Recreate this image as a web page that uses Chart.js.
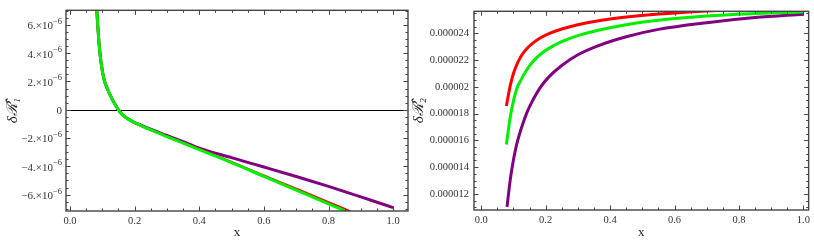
<!DOCTYPE html>
<html>
<head>
<meta charset="utf-8">
<script src="https://cdn.jsdelivr.net/npm/chart.js@4.4.0/dist/chart.umd.min.js"></script>
<style>
  body { margin: 0; background: #fff; }
  canvas { position: absolute; top: 0; }
  #left { left: 0; }
  #right { left: 410px; }
</style>
</head>
<body>
<canvas id="left" width="410" height="240"></canvas>
<canvas id="right" width="404" height="240"></canvas>
<script>
// all y values below are in units of 1e-6

// left panel: delta R1
const leftGreenX = [0.079, 0.083, 0.088, 0.093, 0.1, 0.106, 0.113, 0.12, 0.13, 0.14, 0.148, 0.16, 0.173, 0.194, 0.22, 0.245, 0.3, 0.35, 0.4, 0.5, 0.6, 0.7, 0.8, 0.86];
const leftGreenY = [8.5, 7.0, 5.25, 3.93, 2.75, 2.1, 1.63, 1.25, 0.78, 0.36, 0.05, -0.3, -0.55, -0.84, -1.12, -1.38, -1.9, -2.36, -2.82, -3.74, -4.71, -5.68, -6.65, -7.25];
const leftRedX = [0.079, 0.083, 0.088, 0.093, 0.1, 0.106, 0.113, 0.12, 0.13, 0.14, 0.148, 0.16, 0.173, 0.194, 0.22, 0.245, 0.3, 0.35, 0.4, 0.5, 0.6, 0.7, 0.8, 0.87];
const leftRedY = [8.5, 7.0, 5.25, 3.93, 2.75, 2.1, 1.63, 1.25, 0.78, 0.36, 0.05, -0.3, -0.55, -0.84, -1.12, -1.37, -1.88, -2.34, -2.79, -3.71, -4.66, -5.6, -6.55, -7.23];
const leftPurpleX = [0.079, 0.083, 0.088, 0.093, 0.1, 0.106, 0.113, 0.12, 0.13, 0.14, 0.148, 0.16, 0.173, 0.194, 0.22, 0.245, 0.3, 0.35, 0.4, 0.5, 0.6, 0.7, 0.8, 0.9, 1.0];
const leftPurpleY = [8.5, 7.0, 5.25, 3.93, 2.75, 2.1, 1.63, 1.25, 0.78, 0.36, 0.05, -0.3, -0.55, -0.84, -1.1, -1.34, -1.82, -2.26, -2.72, -3.39, -4.05, -4.72, -5.42, -6.16, -6.92];

// right panel: delta R2
const rightX = [0.078, 0.09, 0.1, 0.11, 0.125, 0.142, 0.16, 0.183, 0.21, 0.25, 0.3, 0.36, 0.45, 0.55, 0.7, 0.85, 1.0];
const rightRedY = [18.57, 20.1, 21.0, 21.65, 22.35, 22.87, 23.27, 23.65, 23.98, 24.33, 24.65, 24.93, 25.22, 25.45, 25.68, 25.85, 25.98];
const rightGreenY = [15.7, 17.75, 18.95, 19.85, 20.6, 21.3, 21.88, 22.42, 22.88, 23.38, 23.83, 24.22, 24.65, 24.98, 25.3, 25.48, 25.6];
const rightPurpleX = [0.08, 0.09, 0.1, 0.11, 0.125, 0.142, 0.16, 0.183, 0.21, 0.25, 0.3, 0.36, 0.45, 0.55, 0.7, 0.85, 1.0];
const rightPurpleY = [11.03, 13.05, 14.55, 15.7, 16.95, 18.1, 19.0, 19.95, 20.75, 21.6, 22.4, 23.05, 23.75, 24.3, 24.8, 25.18, 25.43];

const xTickStep = 0.2;
const yTickStep = 2e-6;

const serif = '"Liberation Serif", "DejaVu Serif", serif';
Chart.defaults.font.family = serif;
Chart.defaults.color = '#333';

const toPoints = (xs, ys) => xs.map((x, i) => ({ x: x, y: ys[i] * 1e-6 }));

const frameTicks = {
  id: 'frameTicks',
  beforeDatasetsDraw(chart, args, opts) {
    if (!opts.zeroLine) return;
    const { ctx, chartArea: a, scales: { y } } = chart;
    const py = Math.round(y.getPixelForValue(0)) + 0.5;
    ctx.save();
    ctx.strokeStyle = '#000';
    ctx.lineWidth = 1;
    ctx.beginPath();
    ctx.moveTo(a.left, py);
    ctx.lineTo(a.right, py);
    ctx.stroke();
    ctx.restore();
  },
  afterDraw(chart, args, opts) {
    const { ctx, chartArea: a, scales: { x, y } } = chart;
    ctx.save();
    ctx.strokeStyle = '#444';
    ctx.lineWidth = 1;
    const seg = (x1, y1, x2, y2) => {
      ctx.beginPath();
      ctx.moveTo(x1, y1);
      ctx.lineTo(x2, y2);
      ctx.stroke();
    };
    for (let i = Math.ceil(x.min / opts.xMinor - 1e-9); i * opts.xMinor <= x.max + 1e-9; i++) {
      const px = Math.round(x.getPixelForValue(i * opts.xMinor)) + 0.5;
      const len = i % opts.xEvery === 0 ? 4.5 : 2.5;
      seg(px, a.bottom, px, a.bottom - len);
      seg(px, a.top, px, a.top + len);
    }
    for (let i = Math.ceil(y.min / opts.yMinor - 1e-9); i * opts.yMinor <= y.max + 1e-15; i++) {
      const py = Math.round(y.getPixelForValue(i * opts.yMinor)) + 0.5;
      const len = i % opts.yEvery === 0 ? 4.5 : 2.5;
      seg(a.left, py, a.left + len, py);
      seg(a.right, py, a.right - len, py);
    }
    ctx.lineWidth = 1.4;
    ctx.strokeRect(a.left, a.top, a.right - a.left, a.bottom - a.top);

    // scientific tick labels with a raised exponent
    if (opts.sciLabels) {
      ctx.fillStyle = '#333';
      ctx.textAlign = 'right';
      y.ticks.forEach((t) => {
        const n = Math.round(t.value * 1e6);
        const py = y.getPixelForValue(t.value);
        const right = a.left - 4;
        if (n === 0) {
          ctx.font = '11px ' + serif;
          ctx.textBaseline = 'middle';
          ctx.fillText('0', right, py + 1);
          return;
        }
        ctx.font = '8.5px ' + serif;
        ctx.textBaseline = 'alphabetic';
        const sup = '−6';
        const supW = ctx.measureText(sup).width;
        ctx.fillText(sup, right, py - 1);
        ctx.font = '11px ' + serif;
        ctx.textBaseline = 'middle';
        ctx.fillText((n < 0 ? '−' : '') + Math.abs(n) + '.×10', right - supW, py + 1.5);
      });
    }
    ctx.restore();
  }
};

function makeChart(canvasId, datasets, cfg) {
  return new Chart(document.getElementById(canvasId), {
    type: 'line',
    data: { datasets: datasets },
    options: {
      responsive: false,
      animation: false,
      layout: { padding: { top: cfg.top, right: cfg.right, left: 0, bottom: 0 } },
      elements: { point: { radius: 0 } },
      plugins: {
        legend: { display: false },
        tooltip: { enabled: false },
        frameTicks: { zeroLine: cfg.zeroLine, sciLabels: cfg.sciLabels, xMinor: 0.05, xEvery: 4, yMinor: 0.5e-6, yEvery: 4 }
      },
      scales: {
        x: {
          type: 'linear',
          min: cfg.xMin,
          max: cfg.xMax,
          grid: { display: false, drawTicks: false },
          border: { display: false },
          ticks: {
            stepSize: xTickStep,
            includeBounds: false,
            padding: 4,
            maxRotation: 0,
            font: { size: 10.5 },
            callback: (v) => v.toFixed(1)
          },
          title: { display: true, text: 'x', font: { size: 13 }, color: '#222', padding: { top: 1, bottom: 0 } },
          afterFit: (s) => { s.height = cfg.xHeight; }
        },
        y: {
          type: 'linear',
          min: cfg.yMin,
          max: cfg.yMax,
          grid: { display: false, drawTicks: false },
          border: { display: false },
          ticks: {
            stepSize: yTickStep,
            includeBounds: false,
            padding: cfg.yPad,
            font: { size: 10.5 },
            callback: cfg.yLabel
          },
          title: { display: true, text: cfg.yTitle, font: { size: 15, style: 'italic' }, color: '#222', padding: { top: cfg.titlePad, bottom: 0 } },
          afterFit: (s) => { s.width = cfg.yWidth; }
        }
      }
    },
    plugins: [frameTicks]
  });
}

const line = (label, xs, ys, color, width) => ({
  label: label,
  data: toPoints(xs, ys),
  borderColor: color,
  borderWidth: width,
  fill: false,
  clip: 0,
  cubicInterpolationMode: 'monotone'
});

makeChart('left', [
  line('green', leftGreenX, leftGreenY, '#00ee00', 3),
  line('red', leftRedX, leftRedY, '#ff0000', 2.5),
  line('purple', leftPurpleX, leftPurpleY, '#800080', 3)
], {
  top: 5, right: 2, xHeight: 29, yWidth: 66, yPad: 4, titlePad: 4, zeroLine: true, sciLabels: true,
  xMin: -0.0124, xMax: 1.046, yMin: -7.16e-6, yMax: 7.03e-6,
  yTitle: 'δℛ̂₁',
  // drawn by the frameTicks plugin with a raised exponent
  yLabel: () => ''
});

makeChart('right', [
  line('red', rightX, rightRedY, '#ff0000', 3),
  line('green', rightX, rightGreenY, '#00ee00', 3),
  line('purple', rightPurpleX, rightPurpleY, '#800080', 3)
], {
  top: 3, right: 3, xHeight: 30, yWidth: 64, yPad: 5, titlePad: 0, zeroLine: false, sciLabels: false,
  xMin: -0.0225, xMax: 1.0163, yMin: 10.8e-6, yMax: 25.65e-6,
  yTitle: 'δℛ̂₂',
  yLabel: (v) => {
    const n = Math.round(v * 1e6);
    return n % 10 === 0 ? '0.0000' + (n / 10) : '0.0000' + n;
  }
});
</script>
</body>
</html>
